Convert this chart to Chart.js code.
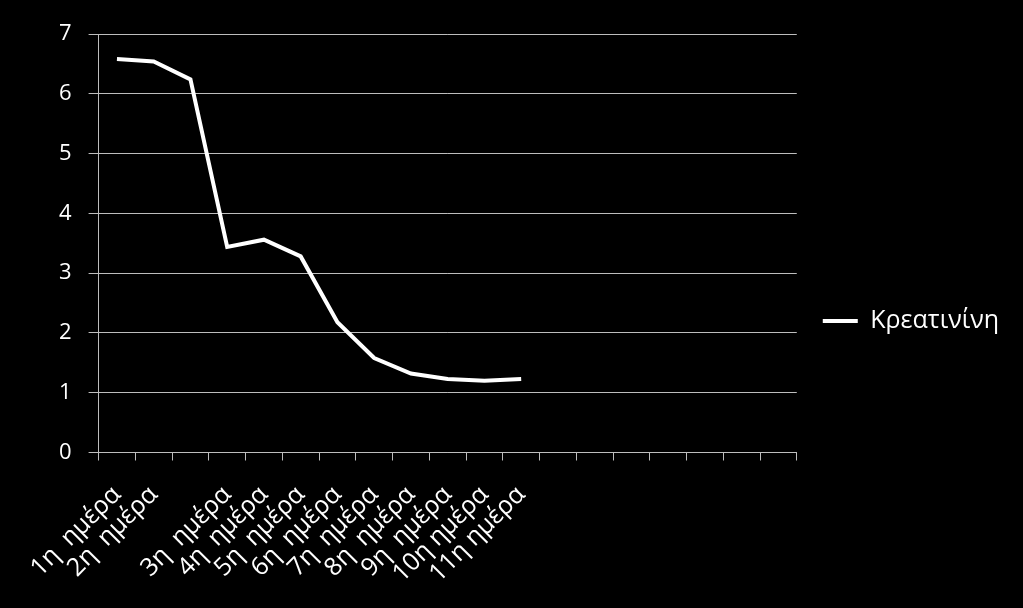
<!DOCTYPE html>
<html>
<head>
<meta charset="utf-8">
<script src="https://cdn.jsdelivr.net/npm/chart.js@4"></script>
<style>
html,body{margin:0;padding:0;background:#000;}
#wrap{width:1023px;height:608px;}
</style>
</head>
<body>
<div id="wrap"><canvas id="c" width="1023" height="608"></canvas></div>
<script>
const categories = ["1η  ημέρα","2η  ημέρα","","3η  ημέρα","4η  ημέρα","5η  ημέρα","6η  ημέρα","7η  ημέρα","8η  ημέρα","9η  ημέρα","10η ημέρα","11η ημέρα","","","","","","",""];
const seriesName = "Κρεατινίνη";
const creatinine = [6.58,6.54,6.24,3.44,3.56,3.28,2.18,1.58,1.32,1.23,1.20,1.23];
const yTicks = [0,1,2,3,4,5,6,7];

const FONT = "'Open Sans', 'DejaVu Sans', sans-serif";
const GRID = '#bdbdbd';

new Chart(document.getElementById('c'), {
  type: 'line',
  data: {
    labels: categories,
    datasets: [{
      label: seriesName,
      data: creatinine,
      borderColor: '#ffffff',
      backgroundColor: '#ffffff',
      borderWidth: 4,
      pointRadius: 0,
      tension: 0,
      fill: false
    }]
  },
  options: {
    responsive: false,
    animation: false,
    layout: { padding: { top: 34, left: 42, right: 14, bottom: 0 } },
    plugins: {
      legend: {
        position: 'right',
        labels: {
          color: '#ffffff',
          font: { family: FONT, size: 25 },
          usePointStyle: true,
          pointStyle: 'line',
          pointStyleWidth: 35,
          boxWidth: 35,
          padding: 26
        }
      },
      tooltip: { enabled: false }
    },
    scales: {
      x: {
        offset: true,
        grid: { display: true, drawOnChartArea: false, color: GRID, tickLength: 8, offset: true },
        border: { display: true, color: GRID, width: 1 },
        ticks: {
          color: '#ffffff',
          font: { family: FONT, size: 25 },
          autoSkip: false,
          maxRotation: 45,
          minRotation: 45,
          padding: 19.5
        }
      },
      y: {
        min: 0,
        max: 7,
        afterBuildTicks: (ax) => { ax.ticks = yTicks.map(v => ({ value: v })); },
        grid: { color: GRID, tickLength: 10 },
        border: { display: true, color: GRID, width: 1 },
        ticks: {
          color: '#ffffff',
          font: { family: FONT, size: 22 },
          padding: 17
        }
      }
    }
  }
});
</script>
</body>
</html>
